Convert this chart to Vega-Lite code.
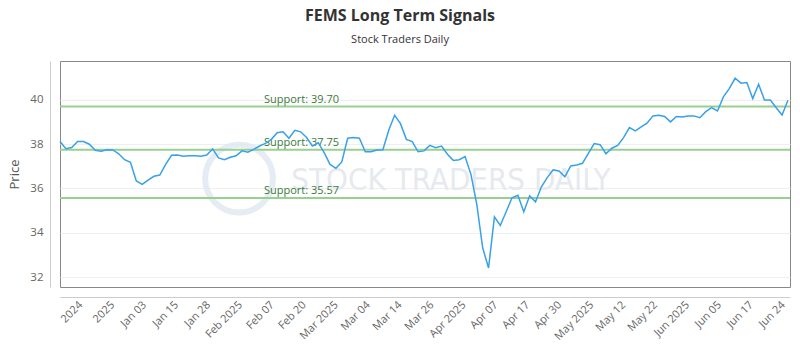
{
  "$schema": "https://vega.github.io/schema/vega-lite/v6.json",
  "width": 730,
  "height": 226,
  "autosize": {"type": "none"},
  "padding": {"left": 60, "top": 61, "right": 10, "bottom": 63},
  "background": "white",
  "title": {
    "text": "FEMS Long Term Signals",
    "subtitle": "Stock Traders Daily",
    "anchor": "middle",
    "dx": -25,
    "offset": 16,
    "font": "Open Sans",
    "fontSize": 16,
    "fontWeight": "bold",
    "color": "#333333",
    "subtitleFont": "Open Sans",
    "subtitleFontSize": 11,
    "subtitleColor": "#333333",
    "subtitlePadding": 10
  },
  "config": {
    "view": {"stroke": "#888888", "strokeWidth": 1},
    "font": "Open Sans"
  },
  "datasets": {
    "prices": [
      {"i":0,"price":38.12},{"i":1,"price":37.80},{"i":2,"price":37.85},{"i":3,"price":38.12},{"i":4,"price":38.12},
      {"i":5,"price":38.00},{"i":6,"price":37.73},{"i":7,"price":37.68},{"i":8,"price":37.75},{"i":9,"price":37.74},
      {"i":10,"price":37.57},{"i":11,"price":37.30},{"i":12,"price":37.18},{"i":13,"price":36.34},{"i":14,"price":36.19},
      {"i":15,"price":36.38},{"i":16,"price":36.55},{"i":17,"price":36.61},{"i":18,"price":37.09},{"i":19,"price":37.50},
      {"i":20,"price":37.51},{"i":21,"price":37.46},{"i":22,"price":37.48},{"i":23,"price":37.48},{"i":24,"price":37.46},
      {"i":25,"price":37.51},{"i":26,"price":37.79},{"i":27,"price":37.38},{"i":28,"price":37.30},{"i":29,"price":37.41},
      {"i":30,"price":37.48},{"i":31,"price":37.70},{"i":32,"price":37.64},{"i":33,"price":37.77},{"i":34,"price":37.92},
      {"i":35,"price":38.04},{"i":36,"price":38.22},{"i":37,"price":38.52},{"i":38,"price":38.56},{"i":39,"price":38.27},
      {"i":40,"price":38.63},{"i":41,"price":38.56},{"i":42,"price":38.30},{"i":43,"price":37.92},{"i":44,"price":38.07},
      {"i":45,"price":37.62},{"i":46,"price":37.09},{"i":47,"price":36.91},{"i":48,"price":37.20},{"i":49,"price":38.27},
      {"i":50,"price":38.30},{"i":51,"price":38.27},{"i":52,"price":37.66},{"i":53,"price":37.66},{"i":54,"price":37.74},
      {"i":55,"price":37.75},{"i":56,"price":38.63},{"i":57,"price":39.31},{"i":58,"price":38.93},{"i":59,"price":38.22},
      {"i":60,"price":38.12},{"i":61,"price":37.66},{"i":62,"price":37.70},{"i":63,"price":37.95},{"i":64,"price":37.84},
      {"i":65,"price":37.92},{"i":66,"price":37.55},{"i":67,"price":37.27},{"i":68,"price":37.30},{"i":69,"price":37.44},
      {"i":70,"price":36.64},{"i":71,"price":35.28},{"i":72,"price":33.32},{"i":73,"price":32.41},{"i":74,"price":34.72},
      {"i":75,"price":34.33},{"i":76,"price":34.95},{"i":77,"price":35.58},{"i":78,"price":35.69},{"i":79,"price":34.95},
      {"i":80,"price":35.67},{"i":81,"price":35.40},{"i":82,"price":36.08},{"i":83,"price":36.49},{"i":84,"price":36.84},
      {"i":85,"price":36.79},{"i":86,"price":36.53},{"i":87,"price":37.02},{"i":88,"price":37.06},{"i":89,"price":37.14},
      {"i":90,"price":37.59},{"i":91,"price":38.03},{"i":92,"price":37.98},{"i":93,"price":37.57},{"i":94,"price":37.82},
      {"i":95,"price":37.95},{"i":96,"price":38.30},{"i":97,"price":38.75},{"i":98,"price":38.60},{"i":99,"price":38.78},
      {"i":100,"price":38.95},{"i":101,"price":39.28},{"i":102,"price":39.31},{"i":103,"price":39.25},{"i":104,"price":39.01},
      {"i":105,"price":39.25},{"i":106,"price":39.23},{"i":107,"price":39.28},{"i":108,"price":39.28},{"i":109,"price":39.20},
      {"i":110,"price":39.47},{"i":111,"price":39.65},{"i":112,"price":39.50},{"i":113,"price":40.14},{"i":114,"price":40.51},
      {"i":115,"price":40.98},{"i":116,"price":40.76},{"i":117,"price":40.79},{"i":118,"price":40.06},{"i":119,"price":40.71},
      {"i":120,"price":40.00},{"i":121,"price":40.00},{"i":122,"price":39.65},{"i":123,"price":39.32},{"i":124,"price":39.99}
    ],
    "support": [
      {"value": 39.70, "label": "Support: 39.70"},
      {"value": 37.75, "label": "Support: 37.75"},
      {"value": 35.57, "label": "Support: 35.57"}
    ],
    "watermark": [
      {"text": "STOCK TRADERS DAILY"}
    ]
  },
  "layer": [
    {
      "data": {"name": "watermark"},
      "mark": {"type": "point", "shape": "circle", "filled": false, "size": 4600, "stroke": "#dfe8f1", "strokeWidth": 6, "opacity": 0.8},
      "encoding": {
        "x": {"datum": 30.5, "type": "quantitative"},
        "y": {"datum": 36.45, "type": "quantitative"}
      }
    },
    {
      "data": {"name": "watermark"},
      "mark": {"type": "text", "font": "DejaVu Sans Condensed", "fontSize": 31, "color": "#e6eaef", "align": "center", "baseline": "middle"},
      "encoding": {
        "x": {"datum": 66.6, "type": "quantitative"},
        "y": {"datum": 36.35, "type": "quantitative"},
        "text": {"field": "text"}
      }
    },
    {
      "data": {"name": "support"},
      "mark": {"type": "rule", "color": "#98d08f", "strokeWidth": 2},
      "encoding": {
        "y": {"field": "value", "type": "quantitative"}
      }
    },
    {
      "data": {"name": "support"},
      "mark": {"type": "text", "align": "left", "baseline": "alphabetic", "dy": -4, "fontSize": 11, "font": "Open Sans", "color": "#3b7a3b"},
      "encoding": {
        "x": {"datum": 34.75, "type": "quantitative"},
        "y": {"field": "value", "type": "quantitative"},
        "text": {"field": "label"}
      }
    },
    {
      "data": {"name": "prices"},
      "mark": {"type": "line", "color": "#38a1e8", "strokeWidth": 1.5},
      "encoding": {
        "x": {
          "field": "i",
          "type": "quantitative",
          "scale": {"domain": [0, 124.35], "nice": false, "zero": false},
          "axis": {
            "title": null,
            "grid": false,
            "ticks": false,
            "offset": 10,
            "domainColor": "#cccccc",
            "tickCount": 100,
            "values": [3.5, 8.94, 14.38, 19.82, 25.26, 30.7, 36.14, 41.58, 47.02, 52.46, 57.9, 63.34, 68.78, 74.22, 79.66, 85.1, 90.54, 95.98, 101.42, 106.86, 112.3, 117.74, 123.18],
            "labelExpr": "['2024','2025','Jan 03','Jan 15','Jan 28','Feb 2025','Feb 07','Feb 20','Mar 2025','Mar 04','Mar 14','Mar 26','Apr 2025','Apr 07','Apr 17','Apr 30','May 2025','May 12','May 22','Jun 2025','Jun 05','Jun 17','Jun 24'][round((datum.value-3.5)/5.44)]",
            "labelAngle": -45,
            "labelAlign": "right",
            "labelBaseline": "middle",
            "labelPadding": 6,
            "labelFontSize": 11,
            "labelColor": "#666666",
            "labelFont": "Open Sans",
            "labelOverlap": false,
            "labelFlush": false,
            "labelBound": false
          }
        },
        "y": {
          "field": "price",
          "type": "quantitative",
          "scale": {"domain": [31.55, 41.76], "nice": false, "zero": false},
          "axis": {
            "title": "Price",
            "titleFont": "Open Sans",
            "titleFontSize": 13,
            "titleFontWeight": "normal",
            "titleColor": "#555555",
            "titlePadding": 8,
            "values": [32, 34, 36, 38, 40],
            "grid": true,
            "gridColor": "#efefef",
            "ticks": false,
            "offset": 10,
            "domainColor": "#cccccc",
            "labelPadding": 7,
            "labelFontSize": 11.5,
            "labelColor": "#666666",
            "labelFont": "Open Sans"
          }
        }
      }
    }
  ]
}
